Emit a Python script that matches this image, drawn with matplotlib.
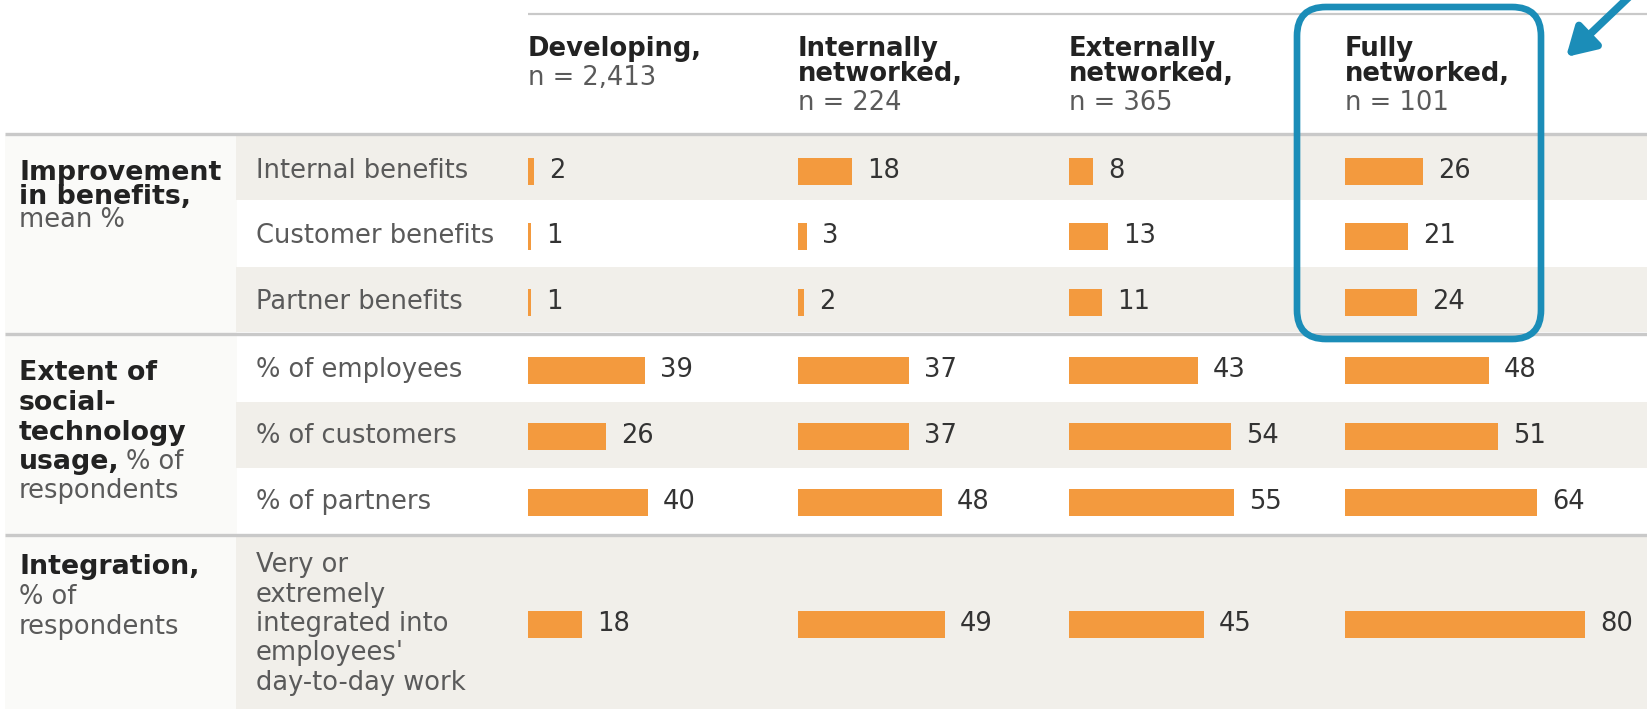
import matplotlib
matplotlib.use("Agg")
import matplotlib.pyplot as plt
from matplotlib.patches import Rectangle, FancyBboxPatch

# ---------------- data ----------------
col_titles = ["Developing,", "Internally\nnetworked,", "Externally\nnetworked,", "Fully\nnetworked,"]
col_n = ["n = 2,413", "n = 224", "n = 365", "n = 101"]
row_labels = ["Internal benefits", "Customer benefits", "Partner benefits",
              "% of employees", "% of customers", "% of partners",
              "Very or\nextremely\nintegrated into\nemployees'\nday-to-day work"]
developing = [2, 1, 1, 39, 26, 40, 18]
internally = [18, 3, 2, 37, 37, 48, 49]
externally = [8, 13, 11, 43, 54, 55, 45]
fully = [26, 21, 24, 48, 51, 64, 80]
series = [developing, internally, externally, fully]

# ---------------- layout (pixels) ----------------
W, H = 1647, 709
FONT = "DejaVu Sans"
FS = 18.5
FSB = 18.6
FSG = 19.3
ORANGE = "#F39A3E"
BAND = "#F1EFEA"
LEFTBG = "#FAFAF8"
LINE = "#C9C9C9"
BLUE = "#1B8DB8"
TXT = "#333333"
GRAY_TXT = "#5A5A5A"
DARK = "#222222"

col_x = [528, 798, 1069, 1345]
px_per_unit = 3.0
row_y = [171, 236, 302, 370, 436, 502, 624]
bands = [(136, 200, True), (200, 267, False), (267, 332, True),
         (335, 402, False), (402, 468, True), (468, 533, False),
         (536, 709, True)]

fig = plt.figure(figsize=(W / 100, H / 100), dpi=100)
fig.patch.set_facecolor("white")

bg = fig.add_axes([0, 0, 1, 1])
bg.set_xlim(0, W)
bg.set_ylim(H, 0)
bg.axis("off")

# left column background
bg.add_patch(Rectangle((5, 135), 232, H - 135, color=LEFTBG, lw=0))
for y0, y1, grey in bands:
    if grey:
        bg.add_patch(Rectangle((236, y0), W - 236, y1 - y0, color=BAND, lw=0))

# rules
bg.plot([528, W], [14, 14], color=LINE, lw=1.6, solid_capstyle="butt")
for yy in (134, 333.5, 535):
    bg.plot([5, W], [yy, yy], color=LINE, lw=2.4, solid_capstyle="butt")

# column headers
for x, title, n in zip(col_x, col_titles, col_n):
    lines = title.split("\n")
    for k, ln in enumerate(lines):
        bg.text(x, 49 + 25 * k, ln, fontsize=FSB, fontweight="bold", family=FONT,
                color=DARK, va="center", ha="left")
    bg.text(x, 49 + 25 * (len(lines) - 1) + 29, n, fontsize=FS, family=FONT,
            color=GRAY_TXT, va="center", ha="left")

# group labels
GX = 19
def grp(parts, y):
    prev = None
    for txt, bold in parts:
        kw = dict(fontsize=FSG if bold else FS, family=FONT,
                  color=DARK if bold else GRAY_TXT,
                  fontweight="bold" if bold else "normal", va="center", ha="left")
        if prev is None:
            prev = bg.text(GX, y, txt, **kw)
        else:
            prev = bg.annotate(txt, xy=(1, 0.5), xycoords=prev, xytext=(6, 0),
                               textcoords="offset pixels", **kw)

grp([("Improvement", True)], 173)
grp([("in benefits,", True)], 197)
grp([("mean %", False)], 220)
grp([("Extent of", True)], 373)
grp([("social-", True)], 403)
grp([("technology", True)], 433)
grp([("usage,", True), ("% of", False)], 462)
grp([("respondents", False)], 491)
grp([("Integration,", True)], 567)
grp([("% of", False)], 597)
grp([("respondents", False)], 627)

# row labels
for lab, y in zip(row_labels, row_y):
    lines = lab.split("\n")
    nl = len(lines)
    for k, ln in enumerate(lines):
        yy = y + (k - (nl - 1) / 2) * 29.5
        bg.text(256, yy, ln, fontsize=FS, family=FONT, color=GRAY_TXT,
                va="center", ha="left")

# bars per column
for x0, vals in zip(col_x, series):
    width_px = 290
    ax = fig.add_axes([x0 / W, 0, width_px / W, 1])
    ax.set_xlim(0, width_px / px_per_unit)
    ax.set_ylim(H, 0)
    ax.axis("off")
    ax.patch.set_alpha(0)
    ax.barh(row_y, vals, height=27, color=ORANGE, lw=0)
    for v, y in zip(vals, row_y):
        ax.text(v + 5, y, str(v), fontsize=FS, family=FONT, color=TXT,
                va="center", ha="left", clip_on=False)

# overlay: highlight box and arrow
ov = fig.add_axes([0, 0, 1, 1])
ov.set_xlim(0, W)
ov.set_ylim(H, 0)
ov.axis("off")
ov.patch.set_alpha(0)
ov.add_patch(FancyBboxPatch((1326, 36), 186, 274, boxstyle="round,pad=29",
                            fill=False, ec=BLUE, lw=4.8))
ov.annotate("", xy=(1566, 57), xytext=(1630, -4),
            arrowprops=dict(arrowstyle="-|>,head_length=1.7,head_width=1.0",
                            color=BLUE, lw=5.5, shrinkA=0, shrinkB=0))

fig.savefig("out.png", dpi=100, facecolor="white")
